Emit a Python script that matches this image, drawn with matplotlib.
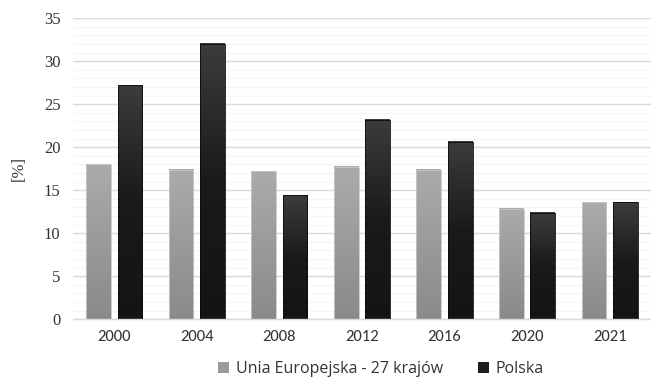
import matplotlib
matplotlib.use("Agg")
import matplotlib.pyplot as plt
import numpy as np
from matplotlib.colors import LinearSegmentedColormap
from matplotlib.patches import Patch
from matplotlib import font_manager

years = ["2000", "2004", "2008", "2012", "2016", "2020", "2021"]
ue27 = [18.0, 17.4, 17.2, 17.7, 17.4, 12.8, 13.6]
polska = [27.2, 32.0, 14.4, 23.2, 20.6, 12.4, 13.6]
series_names = ["Unia Europejska - 27 krajów", "Polska"]
yticks = [0, 5, 10, 15, 20, 25, 30, 35]

serif = font_manager.FontProperties(family=["Liberation Serif", "DejaVu Serif"], size=12)
sans_x = font_manager.FontProperties(family=["Carlito", "Lato", "DejaVu Sans"], size=12)

fig = plt.figure(figsize=(6.51, 3.86), dpi=100)
ax = fig.add_axes([0.112, 0.173, 0.888, 0.78])

x = np.arange(len(years))
w = 0.30
off = 0.19

gray_cmap = LinearSegmentedColormap.from_list("g", ["#ababab", "#8a8a8a"])
black_cmap = LinearSegmentedColormap.from_list("b", ["#3c3c3c", "#1a1a1a", "#141414"])

b1 = ax.bar(x - off, ue27, w, color="none", edgecolor="#c8c8c8", linewidth=0.6, zorder=3)
b2 = ax.bar(x + off, polska, w, color="none", edgecolor="#0a0a0a", linewidth=0.6, zorder=3)

grad = np.linspace(0, 1, 256).reshape(-1, 1)
for bars, cmap in ((b1, gray_cmap), (b2, black_cmap)):
    for r in bars:
        x0, y0 = r.get_x(), r.get_y()
        ax.imshow(grad, cmap=cmap, aspect="auto", origin="upper",
                  extent=(x0, x0 + r.get_width(), y0, y0 + r.get_height()), zorder=2)

ax.set_xlim(-0.5, len(years) - 0.5)
ax.set_ylim(0, 35)
ax.set_yticks(yticks)
ax.set_yticks(np.arange(0, 36, 1), minor=True)
ax.set_yticklabels([str(t) for t in yticks])
for lab in ax.get_yticklabels():
    lab.set_fontproperties(serif)
    lab.set_color("#333333")
ax.set_xticks(x)
ax.set_xticklabels(years)
for lab in ax.get_xticklabels():
    lab.set_fontproperties(sans_x)
    lab.set_color("#333333")
ax.tick_params(axis="both", which="both", length=0, pad=9)
ax.tick_params(axis="x", pad=8)
ax.grid(axis="y", which="major", color="#d9d9d9", linewidth=1.0, zorder=0)
ax.grid(axis="y", which="minor", color="#f4f4f4", linewidth=0.8, zorder=0)
ax.set_axisbelow(True)
for s in ("top", "right", "left"):
    ax.spines[s].set_visible(False)
ax.spines["bottom"].set_color("#d9d9d9")
ax.spines["bottom"].set_linewidth(1.0)

ax.set_ylabel("[%]", fontproperties=serif, color="#333333", labelpad=12)

handles = [Patch(facecolor="#9a9a9a", edgecolor="none"), Patch(facecolor="#1e1e1e", edgecolor="none")]
fig.legend(handles, series_names, loc="lower center", bbox_to_anchor=(0.585, -0.015), ncol=2,
           frameon=False, prop=font_manager.FontProperties(family=["Open Sans", "DejaVu Sans"], size=11.5),
           handlelength=0.7, handleheight=0.7, handletextpad=0.4, columnspacing=2.2, labelcolor="#333333")

fig.savefig("out.png", dpi=100)
